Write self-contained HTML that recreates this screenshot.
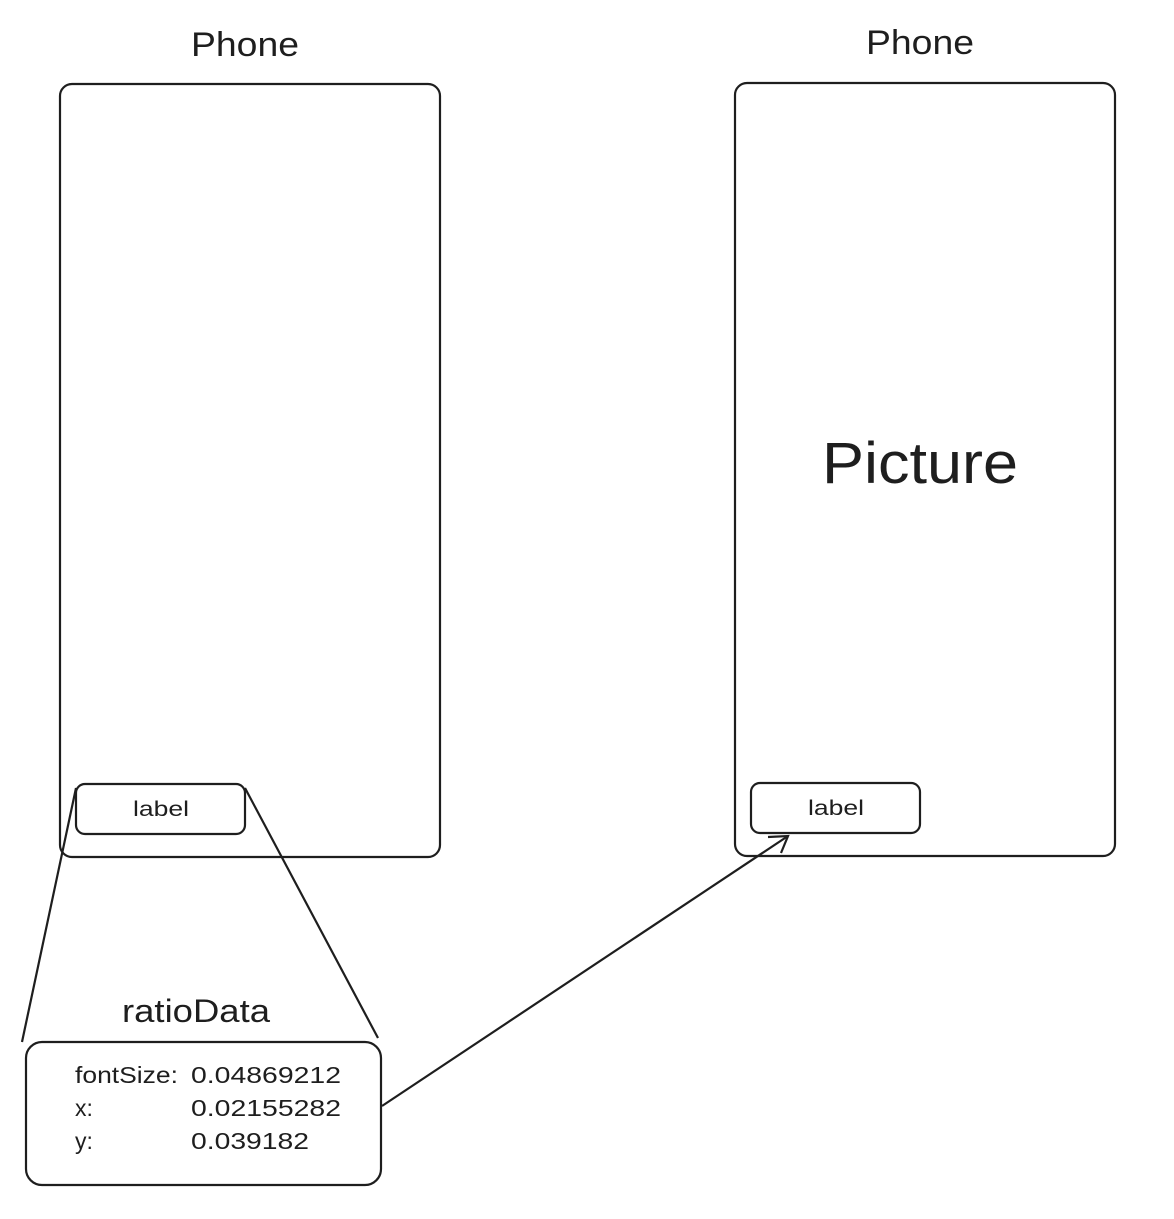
<!DOCTYPE html>
<html><head><style>
body{margin:0;background:#fff;width:1174px;height:1219px;overflow:hidden;font-family:"Liberation Sans",sans-serif;}
</style></head><body>
<svg width="1174" height="1219" xmlns="http://www.w3.org/2000/svg" style="position:absolute;left:0;top:0">
<g fill="none" stroke="#1e1e1e" stroke-width="2.2">
<rect x="60" y="84" width="380" height="773" rx="12"/>
<rect x="735" y="83" width="380" height="773" rx="12"/>
<rect x="76" y="784" width="169" height="50" rx="9"/>
<rect x="751" y="783" width="169" height="50" rx="9"/>
<rect x="26" y="1042" width="355" height="143" rx="16"/>
<line x1="76" y1="788" x2="22" y2="1042"/>
<line x1="245" y1="788" x2="378" y2="1038"/>
<line x1="382" y1="1106" x2="788" y2="836"/>
<polyline points="768,837 788,836 781,853"/>
</g>
<g fill="#1e1e1e" font-family="Liberation Sans, sans-serif" lengthAdjust="spacingAndGlyphs">
<text x="191" y="56" font-size="34" textLength="108" lengthAdjust="spacingAndGlyphs">Phone</text>
<text x="866" y="54" font-size="34" textLength="108" lengthAdjust="spacingAndGlyphs">Phone</text>
<text x="822" y="483" font-size="58" textLength="196" lengthAdjust="spacingAndGlyphs">Picture</text>
<text x="133" y="816" font-size="21" textLength="56" lengthAdjust="spacingAndGlyphs">label</text>
<text x="808" y="815" font-size="21" textLength="56" lengthAdjust="spacingAndGlyphs">label</text>
<text x="122" y="1022" font-size="32" textLength="148" lengthAdjust="spacingAndGlyphs">ratioData</text>
<text x="75" y="1083" font-size="23" textLength="103" lengthAdjust="spacingAndGlyphs">fontSize:</text>
<text x="191" y="1083" font-size="23" textLength="150" lengthAdjust="spacingAndGlyphs">0.04869212</text>
<text x="75" y="1116" font-size="23">x:</text>
<text x="191" y="1116" font-size="23" textLength="150" lengthAdjust="spacingAndGlyphs">0.02155282</text>
<text x="75" y="1149" font-size="23">y:</text>
<text x="191" y="1149" font-size="23" textLength="118" lengthAdjust="spacingAndGlyphs">0.039182</text>
</g>
</svg>
</body></html>
